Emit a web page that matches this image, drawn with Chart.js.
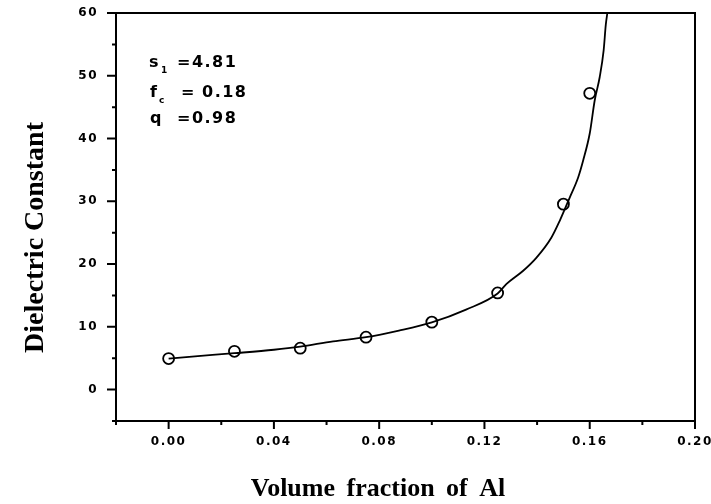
<!DOCTYPE html>
<html><head><meta charset="utf-8">
<script src="https://cdn.jsdelivr.net/npm/chart.js@4.4.0/dist/chart.umd.min.js"></script>
<style>html,body{margin:0;padding:0;background:#fff;} canvas{display:block;}</style>
</head><body>
<canvas id="c" width="711" height="504"></canvas>
<script>
// measured points (circles)
const measuredFraction = [0, 0.025, 0.05, 0.075, 0.1, 0.125, 0.15, 0.16];
const measuredConstant = [4.95, 6.1, 6.6, 8.35, 10.75, 15.4, 29.55, 47.2];
// fitted curve
const fitFraction = [0, 0.01, 0.025, 0.04, 0.05, 0.0625, 0.075, 0.0875, 0.1, 0.113, 0.125, 0.1283, 0.1346, 0.1397, 0.1454, 0.1486, 0.1524, 0.1556, 0.1575, 0.16, 0.1619, 0.1638, 0.1653, 0.1661, 0.1667];
const fitConstant = [4.95, 5.3, 5.8, 6.35, 6.85, 7.7, 8.35, 9.4, 10.7, 12.75, 15.3, 16.8, 18.9, 21.0, 24.2, 26.9, 30.6, 33.8, 36.5, 40.8, 46.1, 49.8, 54.1, 58.1, 60];
// ticks
const xMajorTicks = [0, 0.04, 0.08, 0.12, 0.16, 0.20];
const xMinorTicks = [-0.02, 0.02, 0.06, 0.10, 0.14, 0.18];
const yMajorTicks = [0, 10, 20, 30, 40, 50, 60];
const yMinorTicks = [-5, 5, 15, 25, 35, 45, 55];
const xTitle = 'Volume fraction of Al';
const yTitle = 'Dielectric Constant';
const fitLabels = ['s', '1', '=4.81', 'f', 'c', '=', '0.18', 'q', '=0.98'];

const decor = {
  id: 'decor',
  beforeDraw(chart) { chart.ctx.letterSpacing = '1.5px'; },
  afterDraw(chart) {
    const {ctx, chartArea: a, scales: {x, y}} = chart;
    ctx.save();
    ctx.letterSpacing = '0px';
    ctx.strokeStyle = '#000';
    ctx.fillStyle = '#000';
    ctx.lineWidth = 2;
    ctx.strokeRect(a.left, a.top, a.right - a.left, a.bottom - a.top);
    ctx.beginPath();
    xMajorTicks.forEach(v => { const p = x.getPixelForValue(v); ctx.moveTo(p, a.bottom); ctx.lineTo(p, a.bottom + 8); });
    xMinorTicks.forEach(v => { const p = x.getPixelForValue(v); ctx.moveTo(p, a.bottom); ctx.lineTo(p, a.bottom + 4); });
    yMajorTicks.forEach(v => { const p = y.getPixelForValue(v); ctx.moveTo(a.left, p); ctx.lineTo(a.left - 9, p); });
    yMinorTicks.forEach(v => { const p = y.getPixelForValue(v); ctx.moveTo(a.left, p); ctx.lineTo(a.left - 4, p); });
    ctx.stroke();

    // axis titles
    ctx.font = 'bold 28px "Liberation Serif"';
    ctx.textAlign = 'center';
    ctx.textBaseline = 'alphabetic';
    ctx.save();
    ctx.translate(43, 237.5);
    ctx.rotate(-Math.PI / 2);
    ctx.fillText(yTitle, 0, 0);
    ctx.restore();
    ctx.font = 'bold 26px "Liberation Serif"';
    ctx.wordSpacing = '5px';
    ctx.fillText(xTitle, 378, 496);
    ctx.wordSpacing = '0px';

    // fit parameters annotation
    ctx.textAlign = 'left';
    ctx.letterSpacing = '1.5px';
    const big = 'bold 16px "DejaVu Sans"', small = 'bold 9px "DejaVu Sans"';
    ctx.font = big; ctx.fillText(fitLabels[0], 149, 67);
    ctx.font = small; ctx.fillText(fitLabels[1], 161, 73);
    ctx.font = big; ctx.fillText(fitLabels[2], 177, 67);
    ctx.font = big; ctx.fillText(fitLabels[3], 150, 97);
    ctx.font = small; ctx.fillText(fitLabels[4], 159, 103);
    ctx.font = big; ctx.fillText(fitLabels[5], 181, 97);
    ctx.fillText(fitLabels[6], 202, 97);
    ctx.fillText(fitLabels[7], 150, 123);
    ctx.fillText(fitLabels[8], 177, 123);
    ctx.restore();
  }
};

const tickFont = {family: 'DejaVu Sans', weight: 'bold', size: 12};
new Chart(document.getElementById('c'), {
  type: 'scatter',
  data: {
    datasets: [
      {
        data: fitFraction.map((v, i) => ({x: v, y: fitConstant[i]})),
        showLine: true, borderColor: '#000', borderWidth: 1.8,
        pointRadius: 0, cubicInterpolationMode: 'monotone', fill: false
      },
      {
        data: measuredFraction.map((v, i) => ({x: v, y: measuredConstant[i]})),
        showLine: false, pointStyle: 'circle', pointRadius: 5.5,
        pointBorderWidth: 1.8, pointBorderColor: '#000',
        pointBackgroundColor: 'rgba(0,0,0,0)'
      }
    ]
  },
  options: {
    responsive: false, animation: false, devicePixelRatio: 1, events: [],
    layout: {padding: {top: 13, right: 16, left: 0, bottom: 0}},
    plugins: {legend: {display: false}, tooltip: {enabled: false}},
    scales: {
      x: {
        type: 'linear', min: -0.02, max: 0.2,
        afterBuildTicks: s => { s.ticks = xMajorTicks.map(v => ({value: v})); },
        afterFit: s => { s.height = 83; s.paddingLeft = 0; s.paddingRight = 0; },
        ticks: {callback: v => Number(v).toFixed(2), font: tickFont, color: '#000', padding: 14, maxRotation: 0, autoSkip: false},
        grid: {display: false, drawTicks: false, tickLength: 0},
        border: {display: false}
      },
      y: {
        type: 'linear', min: -5, max: 60,
        afterBuildTicks: s => { s.ticks = yMajorTicks.map(v => ({value: v})); },
        afterFit: s => { s.width = 116; s.paddingTop = 0; s.paddingBottom = 0; },
        ticks: {callback: v => String(v), font: tickFont, color: '#000', padding: 18, autoSkip: false},
        grid: {display: false, drawTicks: false, tickLength: 0},
        border: {display: false}
      }
    }
  },
  plugins: [decor]
});
</script>
</body></html>
